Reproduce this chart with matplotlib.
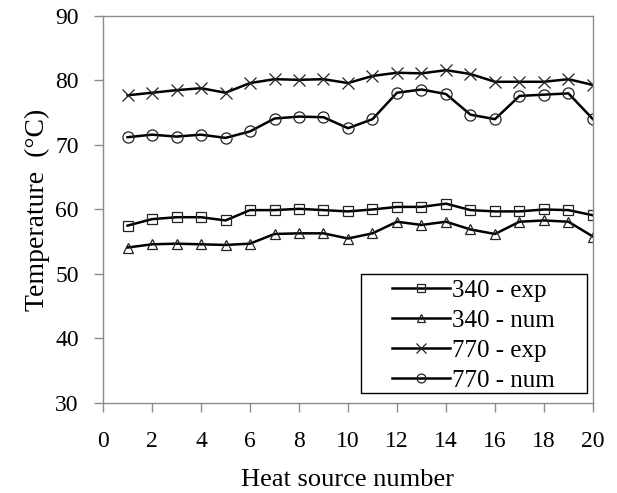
import numpy as np
import matplotlib
matplotlib.use("Agg")
import matplotlib.pyplot as plt
from matplotlib.patches import Rectangle

plt.rcParams['font.family'] = ['Liberation Serif', 'DejaVu Serif']

# heat source index
sources = list(range(1, 21))

# temperatures in deg C
t340_exp = [57.5, 58.5, 58.8, 58.8, 58.3, 59.9, 59.9, 60.1, 59.9, 59.7,
            60.0, 60.4, 60.4, 60.9, 59.9, 59.7, 59.7, 60.0, 59.9, 59.1]
t340_num = [54.1, 54.6, 54.7, 54.6, 54.5, 54.7, 56.2, 56.3, 56.3, 55.5,
            56.3, 58.1, 57.6, 58.1, 56.9, 56.2, 58.1, 58.3, 58.1, 55.8]
t770_exp = [77.7, 78.1, 78.5, 78.8, 78.1, 79.6, 80.2, 80.1, 80.2, 79.6,
            80.7, 81.2, 81.1, 81.6, 81.0, 79.8, 79.8, 79.8, 80.2, 79.3]
t770_num = [71.2, 71.6, 71.3, 71.6, 71.1, 72.1, 74.1, 74.4, 74.3, 72.6,
            74.0, 78.1, 78.6, 77.9, 74.7, 74.0, 77.6, 77.8, 78.0, 74.0]

labels = ['340 - exp', '340 - num', '770 - exp', '770 - num']
markers = ['s', '^', 'x', 'o']
sizes = [7.5, 7, 9, 8]

fig = plt.figure(figsize=(6.17, 4.93), dpi=100)
ax = fig.add_axes([0.167, 0.1826, 0.794, 0.785])

for series, lab, mk, ms in zip([t340_exp, t340_num, t770_exp, t770_num],
                               labels, markers, sizes):
    ax.plot(sources, series, color='black', lw=1.8, marker=mk, ms=ms,
            mfc='none', mec='#222222', mew=0.9, label=lab)

ax.set_xlim(0, 20)
ax.set_ylim(30, 90)
ax.set_xticks(np.arange(0, 21, 2))
ax.set_yticks(np.arange(30, 91, 10))

for sp in ax.spines.values():
    sp.set_color('#8c8c8c')
    sp.set_linewidth(1.0)
ax.tick_params(axis='both', direction='out', length=6.5, width=1.0,
               color='#8c8c8c', labelsize=17)
ax.tick_params(axis='x', pad=14)
ax.tick_params(axis='y', pad=11)

ax.set_xlabel('Heat source number', fontsize=19, labelpad=12)
ax.set_ylabel('Temperature  (°C)', fontsize=20, labelpad=4)

# legend box is wider than its entries, so draw the frame on its own
ax.add_patch(Rectangle((0.527, 0.025), 0.461, 0.308, transform=ax.transAxes,
                       fill=True, fc='white', ec='black', lw=1.0, zorder=3))
leg = ax.legend(loc='upper left', bbox_to_anchor=(0.590, 0.32),
                fontsize=18, handlelength=2.3, handletextpad=0.1,
                labelspacing=0.3, borderpad=0, borderaxespad=0,
                markerscale=0.8, frameon=False)
leg.set_zorder(4)

fig.savefig('out.png', dpi=100)
